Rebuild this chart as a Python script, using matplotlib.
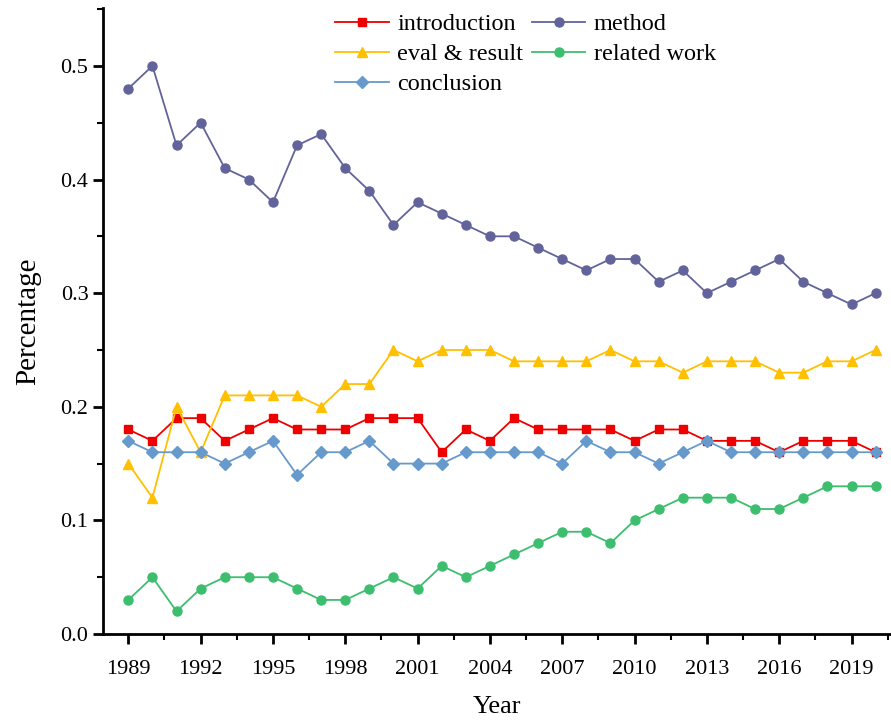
import matplotlib
matplotlib.use("Agg")
import matplotlib.pyplot as plt
from matplotlib.ticker import MultipleLocator, FixedLocator

years = list(range(1989, 2021))
introduction = [0.18, 0.17, 0.19, 0.19, 0.17, 0.18, 0.19, 0.18, 0.18, 0.18, 0.19, 0.19, 0.19, 0.16, 0.18, 0.17,
                0.19, 0.18, 0.18, 0.18, 0.18, 0.17, 0.18, 0.18, 0.17, 0.17, 0.17, 0.16, 0.17, 0.17, 0.17, 0.16]
method = [0.48, 0.50, 0.43, 0.45, 0.41, 0.40, 0.38, 0.43, 0.44, 0.41, 0.39, 0.36, 0.38, 0.37, 0.36, 0.35,
          0.35, 0.34, 0.33, 0.32, 0.33, 0.33, 0.31, 0.32, 0.30, 0.31, 0.32, 0.33, 0.31, 0.30, 0.29, 0.30]
eval_result = [0.15, 0.12, 0.20, 0.16, 0.21, 0.21, 0.21, 0.21, 0.20, 0.22, 0.22, 0.25, 0.24, 0.25, 0.25, 0.25,
               0.24, 0.24, 0.24, 0.24, 0.25, 0.24, 0.24, 0.23, 0.24, 0.24, 0.24, 0.23, 0.23, 0.24, 0.24, 0.25]
related_work = [0.03, 0.05, 0.02, 0.04, 0.05, 0.05, 0.05, 0.04, 0.03, 0.03, 0.04, 0.05, 0.04, 0.06, 0.05, 0.06,
                0.07, 0.08, 0.09, 0.09, 0.08, 0.10, 0.11, 0.12, 0.12, 0.12, 0.11, 0.11, 0.12, 0.13, 0.13, 0.13]
conclusion = [0.17, 0.16, 0.16, 0.16, 0.15, 0.16, 0.17, 0.14, 0.16, 0.16, 0.17, 0.15, 0.15, 0.15, 0.16, 0.16,
              0.16, 0.16, 0.15, 0.17, 0.16, 0.16, 0.15, 0.16, 0.17, 0.16, 0.16, 0.16, 0.16, 0.16, 0.16, 0.16]
xtick_years = list(range(1989, 2020, 3))

plt.rcParams['font.family'] = ['Liberation Serif', 'DejaVu Serif']

fig = plt.figure(figsize=(8.91, 7.2), dpi=100)
ax = fig.add_axes([0.1156, 0.1194, 0.8834, 0.8696])

lw = 1.3
ms = 6.5
h_intro, = ax.plot(years, introduction, color='#EE0000', marker='s', ms=ms - 0.5, lw=lw, label='introduction')
h_meth, = ax.plot(years, method, color='#62639B', marker='o', ms=ms, lw=lw, label='method')
h_eval, = ax.plot(years, eval_result, color='#FFC000', marker='^', ms=ms + 0.5, lw=lw, label='eval & result')
h_rel, = ax.plot(years, related_work, color='#3CBE6E', marker='o', ms=ms, lw=lw, label='related work')
h_conc, = ax.plot(years, conclusion, color='#6699CC', marker='D', ms=ms - 0.5, lw=lw, label='conclusion')

ax.set_xlim(1987.95, 2020.6)
ax.set_ylim(0, 0.551)
ax.spines['top'].set_visible(False)
ax.spines['right'].set_visible(False)
for s in ('left', 'bottom'):
    ax.spines[s].set_linewidth(2)

ax.xaxis.set_major_locator(FixedLocator(xtick_years))
ax.xaxis.set_minor_locator(FixedLocator([y + 1.5 for y in xtick_years]))
ax.yaxis.set_major_locator(MultipleLocator(0.1))
ax.yaxis.set_minor_locator(MultipleLocator(0.05))
ax.yaxis.set_major_formatter(matplotlib.ticker.FuncFormatter(lambda v, p: f"{v:.1f}"))
ax.tick_params(axis='both', which='major', direction='out', length=7, width=2, labelsize=16)
ax.tick_params(axis='both', which='minor', direction='out', length=4, width=1.5)
ax.tick_params(axis='x', pad=12)

ax.set_xlabel('Year', fontsize=19, labelpad=12)
ax.set_ylabel('Percentage', fontsize=21, labelpad=14)

ax.legend([h_intro, h_eval, h_conc, h_meth, h_rel],
          ['introduction', 'eval & result', 'conclusion', 'method', 'related work'],
          ncol=2, frameon=False, fontsize=17.5, handlelength=2.2, handletextpad=0.35,
          columnspacing=0.35, labelspacing=0.33, borderaxespad=0,
          loc='upper left', bbox_to_anchor=(0.283, 1.007))

fig.savefig('out.png', dpi=100)
